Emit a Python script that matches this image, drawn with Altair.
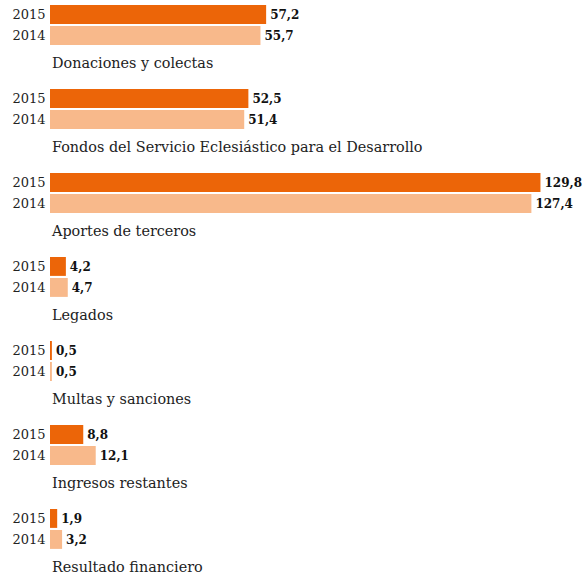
import altair as alt
import pandas as pd

categories = [
    "Donaciones y colectas",
    "Fondos del Servicio Eclesiástico para el Desarrollo",
    "Aportes de terceros",
    "Legados",
    "Multas y sanciones",
    "Ingresos restantes",
    "Resultado financiero",
]
values_2015 = [57.2, 52.5, 129.8, 4.2, 0.5, 8.8, 1.9]
values_2014 = [55.7, 51.4, 127.4, 4.7, 0.5, 12.1, 3.2]
years = ["2015", "2014"]

rows = []
domain = []
label_rows = []
for i, cat in enumerate(categories):
    for yr, vals in (("2015", values_2015), ("2014", values_2014)):
        slot = f"{i}|{yr}"
        domain.append(slot)
        v = vals[i]
        rows.append({"slot": slot, "year": yr, "value": v,
                     "label": f"{v:.1f}".replace(".", ",")})
    domain.append(f"{i}|label")
    label_rows.append({"slot": f"{i}|label", "cat": cat})
    if i < len(categories) - 1:
        domain.append(f"{i}|blank")

bars_df = pd.DataFrame(rows)
labels_df = pd.DataFrame(label_rows)

FONT = "DejaVu Serif"

y_scale = alt.Scale(domain=domain, paddingInner=0.1, paddingOuter=0)
y_enc = alt.Y(
    "slot:N",
    scale=y_scale,
    axis=alt.Axis(
        title=None, ticks=False, domain=False, labelPadding=5,
        labelExpr="indexof(datum.value, '|20') >= 0 ? slice(datum.value, -4) : ''",
        labelFont=FONT, labelFontSize=13, labelColor="#222222", labelBaseline="middle", labelOffset=1,
    ),
)
x_scale = alt.Scale(domain=[0, 140])

bars = alt.Chart(bars_df).mark_bar().encode(
    x=alt.X("value:Q", scale=x_scale, axis=None),
    y=y_enc,
    color=alt.Color("year:N", scale=alt.Scale(domain=years, range=["#EC6508", "#F8B98B"]), legend=None),
)

values = alt.Chart(bars_df).mark_text(
    align="left", baseline="middle", dx=4, dy=1, font=FONT, fontSize=12, fontWeight="bold", color="#111111"
).encode(
    x=alt.X("value:Q", scale=x_scale, axis=None),
    y=alt.Y("slot:N", scale=y_scale),
    text="label:N",
)

cat_labels = alt.Chart(labels_df).mark_text(
    align="left", baseline="alphabetic", dx=2, dy=11.5, font=FONT, fontSize=14.4, color="#222222"
).encode(
    x=alt.datum(0),
    y=alt.Y("slot:N", scale=y_scale),
    text="cat:N",
)

chart = alt.layer(bars, values, cat_labels).properties(
    width=529,
    height=alt.Step(21),
    autosize=alt.AutoSizeParams(type="none"),
    padding={"left": 50, "top": 5, "right": 4, "bottom": 8},
).configure(background="white").configure_view(stroke=None)

chart.save("out.html", embed_options={"renderer": "svg", "actions": False})
